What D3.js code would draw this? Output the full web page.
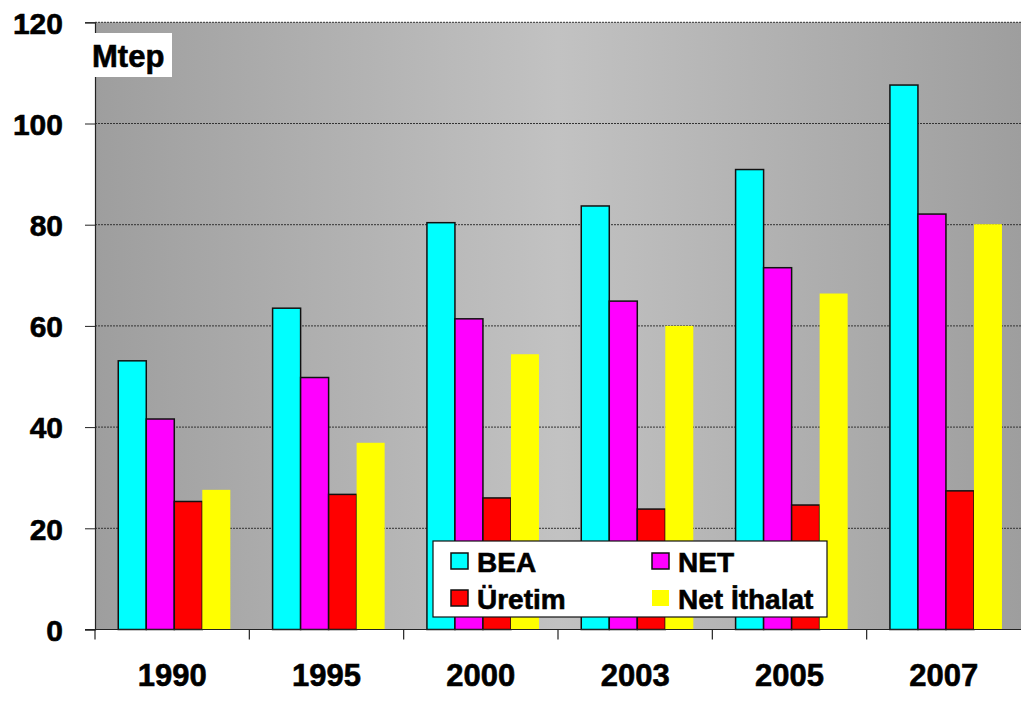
<!DOCTYPE html>
<html><head><meta charset="utf-8">
<script src="https://cdn.jsdelivr.net/npm/d3@7"></script>
<style>body{margin:0;background:#fff;} text{font-family:"Liberation Sans",Arial,sans-serif;font-weight:bold;stroke:#000;stroke-width:0.6px;}</style>
</head><body>
<svg id="c" width="1024" height="709"></svg>
<script>
const years = ["1990","1995","2000","2003","2005","2007"];
const seriesNames = ["BEA","NET","Üretim","Net İthalat"];
const bea = [53.1, 63.5, 80.4, 83.7, 90.9, 107.6];
const net = [41.6, 49.8, 61.4, 64.9, 71.5, 82.1];
const uretim = [25.3, 26.7, 26.0, 23.8, 24.6, 27.4];
const ithalat = [27.6, 36.9, 54.4, 60.0, 66.4, 80.1];
const yTicks = [0,20,40,60,80,100,120];
const colors = ["#00ffff","#ff00ff","#ff0000","#ffff00"];
const strokes = ["#111","#111","#111","none"];
const seriesVals = [bea, net, uretim, ithalat];

const svg = d3.select("#c");
const L = 95, R = 1021, T = 22.3, B = 629.5;
const x0 = d3.scaleBand().domain(years).range([L, R]).paddingInner(0).paddingOuter(0);
const x1 = d3.scaleBand().domain(seriesNames).range([0, x0.bandwidth()]).paddingInner(0).paddingOuter(0.755).align(0.55);
const y = d3.scaleLinear().domain([0,120]).range([B, T]);

const defs = svg.append("defs");
const g = defs.append("linearGradient").attr("id","bg").attr("x1","0").attr("x2","1").attr("y1","0").attr("y2","0");
g.append("stop").attr("offset","0").attr("stop-color","#9e9e9e");
g.append("stop").attr("offset","0.5").attr("stop-color","#c2c2c2");
g.append("stop").attr("offset","1").attr("stop-color","#9e9e9e");

svg.append("rect").attr("x",L).attr("y",T).attr("width",R-L).attr("height",B-T).attr("fill","url(#bg)");

// gridlines
svg.append("g").selectAll("line").data(yTicks.filter(d=>d>0)).join("line")
  .attr("x1",L).attr("x2",R).attr("y1",d=>y(d)).attr("y2",d=>y(d))
  .attr("stroke","#333").attr("stroke-width",1).attr("stroke-dasharray","2,1");

// bars
const groups = svg.append("g").selectAll("g").data(years).join("g")
  .attr("transform",d=>`translate(${x0(d)},0)`);
groups.selectAll("rect").data((d,i)=>seriesNames.map((s,j)=>({s,j,v:seriesVals[j][i]}))).join("rect")
  .attr("x",d=>x1(d.s)).attr("width",x1.bandwidth())
  .attr("y",d=>y(d.v)).attr("height",d=>B-y(d.v))
  .attr("fill",d=>colors[d.j]).attr("stroke",d=>strokes[d.j]).attr("stroke-width",1.5);

// y axis
const ya = svg.append("g").attr("transform",`translate(${L},0)`)
  .call(d3.axisLeft(y).tickValues(yTicks).tickSize(10).tickPadding(22));
ya.select(".domain").attr("stroke","#222").attr("stroke-width",1.2);
ya.selectAll(".tick line").attr("stroke","#222");
ya.selectAll("text").attr("font-size",30).attr("font-weight","bold").attr("fill","#000")
  .attr("font-family","Liberation Sans, Arial, sans-serif").attr("dy","0.36em");

// x axis
const xa = svg.append("g").attr("transform",`translate(0,${B})`)
  .call(d3.axisBottom(x0).tickSize(0).tickPadding(50));
xa.select(".domain").attr("stroke","#222").attr("stroke-width",1.2).attr("d",`M${L-10},0H${R}`);
xa.selectAll("text").attr("font-size",31).attr("font-weight","bold").attr("fill","#000")
  .attr("font-family","Liberation Sans, Arial, sans-serif").attr("dy","0.2em");
// category boundary ticks
svg.append("g").selectAll("line").data(years).join("line")
  .attr("x1",d=>x0(d)).attr("x2",d=>x0(d)).attr("y1",B).attr("y2",B+10)
  .attr("stroke","#222").attr("stroke-width",1.2);

// Mtep label
svg.append("rect").attr("x",83).attr("y",33).attr("width",89).attr("height",44).attr("fill","#fff");
svg.append("text").attr("x",92).attr("y",67).attr("font-size",31).attr("fill","#000").text("Mtep");

// legend
const lg = svg.append("g");
lg.append("rect").attr("x",433).attr("y",541).attr("width",394).attr("height",76)
  .attr("fill","#fff").attr("stroke","#111").attr("stroke-width",1.2);
const legPos = [[451,553],[652,553],[451,590],[652,590]];
seriesNames.forEach((s,j)=>{
  lg.append("rect").attr("x",legPos[j][0]).attr("y",legPos[j][1]).attr("width",17).attr("height",16)
    .attr("fill",colors[j]).attr("stroke",strokes[j]).attr("stroke-width",1.5);
  lg.append("text").attr("x",legPos[j][0]+26).attr("y",legPos[j][1]+19).attr("font-size",28).attr("fill","#000").text(s);
});
</script>
</body></html>
